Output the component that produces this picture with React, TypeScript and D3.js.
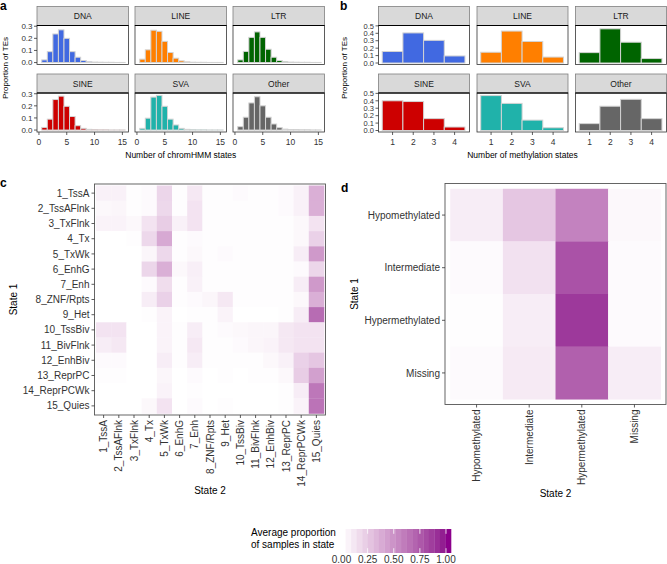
import React from "react";
import * as d3 from "d3";

const teClasses = ["DNA", "LINE", "LTR", "SINE", "SVA", "Other"];
const teColors = ["#4169E1", "#FF7F00", "#006400", "#CD0000", "#20B2AA", "#666666"];

const chromCounts = [1, 2, 3, 4, 5, 6, 7, 8, 9, 10, 11, 12, 13, 14, 15];
const chromDNA = [0.022, 0.09, 0.236, 0.27, 0.2, 0.09, 0.044, 0.017, 0.007, 0.004, 0.003, 0.002, 0.002, 0.001, 0.001];
const chromLINE = [0.028, 0.105, 0.267, 0.258, 0.175, 0.083, 0.036, 0.014, 0.006, 0.003, 0.002, 0.002, 0.001, 0.001, 0.001];
const chromLTR = [0.022, 0.092, 0.208, 0.253, 0.208, 0.11, 0.044, 0.017, 0.007, 0.004, 0.003, 0.002, 0.002, 0.001, 0.001];
const chromSINE = [0.022, 0.09, 0.252, 0.28, 0.196, 0.112, 0.036, 0.014, 0.006, 0.003, 0.002, 0.002, 0.001, 0.001, 0.001];
const chromSVA = [0.014, 0.098, 0.272, 0.286, 0.196, 0.09, 0.042, 0.014, 0.006, 0.003, 0.002, 0.002, 0.001, 0.001, 0.001];
const chromOther = [0.028, 0.106, 0.224, 0.275, 0.2, 0.106, 0.05, 0.02, 0.008, 0.004, 0.003, 0.002, 0.002, 0.001, 0.001];
const chromSeries = [chromDNA, chromLINE, chromLTR, chromSINE, chromSVA, chromOther];
const chromTicks = [0, 5, 10, 15];
const chromYTicks = [0, 0.1, 0.2, 0.3];

const methCounts = [1, 2, 3, 4];
const methDNA = [0.155, 0.405, 0.305, 0.095];
const methLINE = [0.145, 0.43, 0.29, 0.08];
const methLTR = [0.14, 0.46, 0.28, 0.06];
const methSINE = [0.4, 0.39, 0.16, 0.047];
const methSVA = [0.47, 0.365, 0.14, 0.037];
const methOther = [0.093, 0.327, 0.42, 0.16];
const methSeries = [methDNA, methLINE, methLTR, methSINE, methSVA, methOther];
const methYTicks = [0, 0.1, 0.2, 0.3, 0.4, 0.5];

const chromStates = ["1_TssA", "2_TssAFlnk", "3_TxFlnk", "4_Tx", "5_TxWk", "6_EnhG", "7_Enh", "8_ZNF/Rpts", "9_Het", "10_TssBiv", "11_BivFlnk", "12_EnhBiv", "13_ReprPC", "14_ReprPCWk", "15_Quies"];
const chromTransition = [
  [0.06, 0.06, 0.01, 0.02, 0.18, 0.01, 0.1, 0.01, 0.01, 0.02, 0.01, 0.01, 0.02, 0.06, 0.35],
  [0.03, 0.04, 0.01, 0.02, 0.17, 0.01, 0.12, 0.01, 0.01, 0.01, 0.01, 0.01, 0.02, 0.06, 0.35],
  [0.05, 0.05, 0.03, 0.12, 0.22, 0.06, 0.12, 0.01, 0.01, 0.01, 0.01, 0.01, 0.01, 0.03, 0.12],
  [0.0, 0.0, 0.01, 0.17, 0.38, 0.01, 0.02, 0.01, 0.01, 0.01, 0.01, 0.01, 0.01, 0.03, 0.2],
  [0.0, 0.0, 0.0, 0.04, 0.17, 0.01, 0.03, 0.01, 0.02, 0.01, 0.01, 0.01, 0.01, 0.08, 0.45],
  [0.0, 0.0, 0.0, 0.18, 0.35, 0.03, 0.07, 0.01, 0.01, 0.01, 0.01, 0.01, 0.01, 0.02, 0.18],
  [0.0, 0.0, 0.0, 0.02, 0.15, 0.01, 0.06, 0.01, 0.01, 0.01, 0.01, 0.01, 0.01, 0.08, 0.45],
  [0.0, 0.0, 0.0, 0.08, 0.2, 0.01, 0.02, 0.04, 0.1, 0.01, 0.01, 0.01, 0.01, 0.03, 0.35],
  [0.0, 0.0, 0.0, 0.01, 0.05, 0.0, 0.01, 0.01, 0.05, 0.0, 0.0, 0.0, 0.01, 0.08, 0.65],
  [0.12, 0.12, 0.0, 0.0, 0.05, 0.01, 0.08, 0.01, 0.02, 0.03, 0.04, 0.04, 0.1, 0.12, 0.12],
  [0.08, 0.1, 0.0, 0.0, 0.05, 0.01, 0.1, 0.01, 0.01, 0.02, 0.04, 0.05, 0.1, 0.12, 0.12],
  [0.02, 0.02, 0.0, 0.0, 0.08, 0.01, 0.08, 0.01, 0.01, 0.01, 0.01, 0.03, 0.06, 0.2, 0.25],
  [0.01, 0.01, 0.0, 0.0, 0.04, 0.0, 0.02, 0.0, 0.01, 0.0, 0.01, 0.01, 0.03, 0.22, 0.42],
  [0.0, 0.0, 0.0, 0.0, 0.05, 0.0, 0.01, 0.0, 0.0, 0.0, 0.0, 0.0, 0.01, 0.08, 0.6],
  [0.0, 0.0, 0.0, 0.03, 0.12, 0.0, 0.02, 0.0, 0.01, 0.0, 0.0, 0.0, 0.01, 0.05, 0.62],
];

const methStates = ["Hypomethylated", "Intermediate", "Hypermethylated", "Missing"];
const methTransition = [
  [0.08, 0.25, 0.55, 0.03],
  [0.02, 0.13, 0.76, 0.02],
  [0.01, 0.08, 0.86, 0.02],
  [0.02, 0.09, 0.7, 0.08],
];

const legendTicks = [0, 0.25, 0.5, 0.75, 1];

const FONT = "'Liberation Sans', Arial, Helvetica, sans-serif";
const fill = d3.scaleSequential(d3.interpolateLab("#FFFFFF", "#8B008B")).domain([0, 1]);

function FacetBars({ x0, colStarts, panelW, rowTops, stripH, panelH, xDomain, xTicks, yDomain, yTicks, cats, series, title, fs, tfs }) {
  const els = [];
  cats.forEach((name, i) => {
    const c = i % 3;
    const r = Math.floor(i / 3);
    const left = colStarts[c];
    const top = rowTops[r];
    const pTop = top + stripH;
    const pBot = pTop + panelH;
    const xs = d3.scaleLinear().domain(xDomain).range([left, left + panelW]);
    const ys = d3.scaleLinear().domain(yDomain).range([pBot, pTop]);
    els.push(
      <g key={name}>
        <rect x={left} y={top} width={panelW} height={stripH} fill="#D9D9D9" stroke="#7F7F7F" strokeWidth={0.8} />
        <text x={left + panelW / 2} y={top + stripH / 2 + fs * 0.36} textAnchor="middle" fontSize={fs} fill="#1a1a1a">{name}</text>
        {series[i].map((v, j) => (
          <rect key={j} x={xs(x0[j] - 0.5)} y={ys(v)} width={xs(x0[j] + 0.5) - xs(x0[j] - 0.5)} height={ys(0) - ys(v)}
            fill={teColors[i]} stroke="#D3D3D3" strokeWidth={1} />
        ))}
        <rect x={left} y={pTop} width={panelW} height={panelH} fill="none" stroke="#333" strokeWidth={0.8} />
        <line x1={left} x2={left + panelW} y1={pTop} y2={pTop} stroke="#000" strokeWidth={1} />
        {c === 0 && yTicks.map((t) => (
          <g key={t}>
            <line x1={left - 3} x2={left} y1={ys(t)} y2={ys(t)} stroke="#333" strokeWidth={0.8} />
            <text x={left - 4.5} y={ys(t) + tfs * 0.36} textAnchor="end" fontSize={tfs} fill="#333">{t.toFixed(1)}</text>
          </g>
        ))}
        {r === 1 && xTicks.map((t) => (
          <g key={t}>
            <line x1={xs(t)} x2={xs(t)} y1={pBot} y2={pBot + 3} stroke="#333" strokeWidth={0.8} />
            <text x={xs(t)} y={pBot + 4 + fs} textAnchor="middle" fontSize={fs} fill="#333">{t}</text>
          </g>
        ))}
      </g>
    );
  });
  const midX = (colStarts[0] + colStarts[2] + panelW) / 2;
  return (
    <g>
      {els}
      <text x={midX} y={rowTops[1] + stripH + panelH + 26} textAnchor="middle" fontSize={fs} fill="#000">{title}</text>
    </g>
  );
}

function Heatmap({ left, top, size, rows, cols, values, fs, yTitleX, xTitleY }) {
  const xs = d3.scaleBand().domain(cols).range([left, left + size]).paddingOuter(0.1).paddingInner(0);
  const ys = d3.scaleBand().domain(rows).range([top, top + size]).paddingOuter(0.1).paddingInner(0);
  const bw = xs.bandwidth();
  const bh = ys.bandwidth();
  return (
    <g>
      {values.map((row, i) =>
        row.map((v, j) => (
          <rect key={i + "-" + j} x={xs(cols[j])} y={ys(rows[i])} width={bw + 0.3} height={bh + 0.3} fill={fill(v)} />
        ))
      )}
      <rect x={left} y={top} width={size} height={size} fill="none" stroke="#555" strokeWidth={0.9} />
      {rows.map((r) => (
        <g key={r}>
          <line x1={left - 3} x2={left} y1={ys(r) + bh / 2} y2={ys(r) + bh / 2} stroke="#333" strokeWidth={0.8} />
          <text x={left - 5} y={ys(r) + bh / 2 + fs * 0.36} textAnchor="end" fontSize={fs} fill="#333">{r}</text>
        </g>
      ))}
      {cols.map((c) => {
        const cx = xs(c) + bw / 2;
        return (
          <g key={c}>
            <line x1={cx} x2={cx} y1={top + size} y2={top + size + 3} stroke="#333" strokeWidth={0.8} />
            <text transform={`translate(${cx + fs * 0.36},${top + size + 5}) rotate(-90)`} textAnchor="end" fontSize={fs} fill="#333">{c}</text>
          </g>
        );
      })}
      <text transform={`translate(${yTitleX},${top + size / 2}) rotate(-90)`} textAnchor="middle" fontSize={fs} fill="#000">State 1</text>
      <text x={left + size / 2} y={xTitleY} textAnchor="middle" fontSize={fs} fill="#000">State 2</text>
    </g>
  );
}

function Legend({ x, y, w, h, fs }) {
  const nbin = 20;
  const lx = d3.scaleLinear().domain([0, 1]).range([x + 1.5, x + w - 5]);
  const bins = d3.range(nbin).map((i) => i / (nbin - 1));
  const step = w / nbin;
  return (
    <g>
      <text x={x - 89} y={y + 7} fontSize={fs} fill="#000">Average proportion</text>
      <text x={x - 89} y={y + 19} fontSize={fs} fill="#000">of samples in state</text>
      {bins.map((b, i) => (
        <rect key={i} x={x + i * step} y={y} width={step + 0.3} height={h} fill={fill(b)} />
      ))}
      {legendTicks.map((t) => (
        <g key={t}>
          <line x1={lx(t)} x2={lx(t)} y1={y} y2={y + h / 5} stroke="#fff" strokeWidth={0.8} />
          <line x1={lx(t)} x2={lx(t)} y1={y + h - h / 5} y2={y + h} stroke="#fff" strokeWidth={0.8} />
          <text x={lx(t)} y={y + h + 9.5} textAnchor="middle" fontSize={fs} fill="#333">{t.toFixed(2)}</text>
        </g>
      ))}
    </g>
  );
}

export default function App() {
  const fsSmall = 8.5;
  const fsBig = 10;
  return (
    <svg width={667} height={564} style={{ position: "absolute", left: 0, top: 0, background: "#fff" }} fontFamily={FONT}>
      <rect x={0} y={0} width={667} height={564} fill="#fff" />
      <text x={0} y={10} fontSize={12} fontWeight="bold">a</text>
      <text x={340} y={10} fontSize={12} fontWeight="bold">b</text>
      <text x={0} y={187} fontSize={12} fontWeight="bold">c</text>
      <text x={341} y={192} fontSize={12} fontWeight="bold">d</text>

      <FacetBars x0={chromCounts} colStarts={[37, 135, 233]} panelW={91.5} rowTops={[6.5, 74]} stripH={19} panelH={39}
        xDomain={[-0.35, 16.1]} xTicks={chromTicks} yDomain={[-0.016, 0.306]} yTicks={chromYTicks}
        cats={teClasses} series={chromSeries} title="Number of chromHMM states" fs={fsSmall} tfs={8} />
      <text transform="translate(7.5,68) rotate(-90)" textAnchor="middle" fontSize={8}>Proportion of TEs</text>

      <FacetBars x0={methCounts} colStarts={[378.5, 477, 575.5]} panelW={91} rowTops={[6.5, 74]} stripH={19} panelH={39}
        xDomain={[0.32, 4.72]} xTicks={methCounts} yDomain={[-0.02, 0.505]} yTicks={methYTicks}
        cats={teClasses} series={methSeries} title="Number of methylation states" fs={fsSmall} tfs={7.5} />
      <text transform="translate(347,68) rotate(-90)" textAnchor="middle" fontSize={8}>Proportion of TEs</text>

      <Heatmap left={94.5} top={184} size={231} rows={chromStates} cols={chromStates} values={chromTransition} fs={fsBig} yTitleX={17} xTitleY={494} />
      <Heatmap left={445} top={183.5} size={221} rows={methStates} cols={methStates} values={methTransition} fs={fsBig} yTitleX={358} xTitleY={497} />

      <Legend x={340} y={529} w={111} h={24} fs={fsBig} />
    </svg>
  );
}
